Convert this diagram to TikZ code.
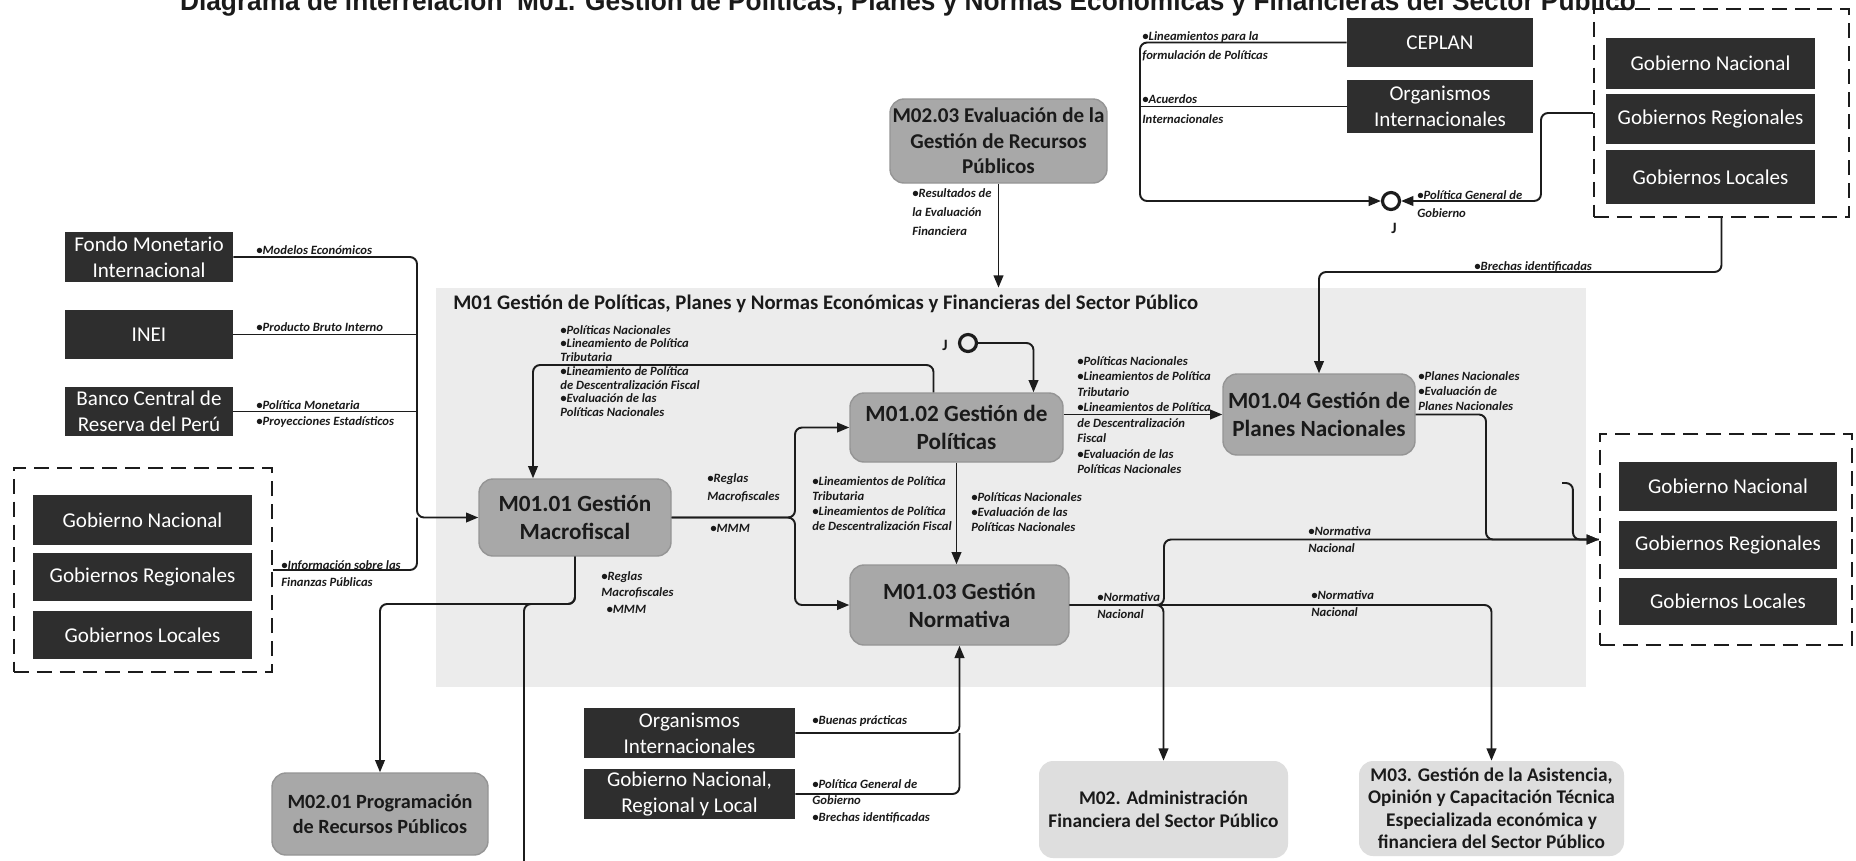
\documentclass[tikz,border=0pt]{standalone}
\usepackage{graphicx}
\usepackage{fontspec}
\setmainfont{Carlito}
\newfontfamily\titlefont{Liberation Sans}
\usetikzlibrary{arrows.meta,calc}
\definecolor{dk}{HTML}{2E2E2E}
\definecolor{mg}{HTML}{A8A8A8}
\definecolor{mge}{HTML}{959595}
\definecolor{lg}{HTML}{DEDEDE}
\definecolor{reg}{HTML}{ECECEC}
\definecolor{ln}{HTML}{1C1C1C}
\definecolor{tx}{HTML}{1A1A1A}
\begin{document}
\begin{tikzpicture}[x=0.02cm,y=-0.02cm,
  every node/.style={inner sep=0pt},
  wh/.style 2 args={minimum width=#1*0.02cm,minimum height=#2*0.02cm},
  darkbox/.style={fill=dk,text=white,align=center,font=\fontsize{12}{15}\selectfont},
  graybox/.style={fill=mg,draw=mge,line width=0.8pt,rounded corners=8pt,align=center,text=tx,font=\bfseries\fontsize{13.2}{16}\selectfont},
  lightbox/.style={fill=lg,rounded corners=8pt,align=center,text=tx,font=\bfseries\fontsize{11}{12.8}\selectfont},
  lbl/.style={anchor=north west,align=left,text=tx,font=\bfseries\itshape\fontsize{7.2}{#1}\selectfont},
  lbl/.default=8.5,
  conn/.style={draw=ln,line width=1.1pt,rounded corners=4pt},
  arr/.style={conn,-{Triangle[length=7pt,width=5.5pt]}},
  grp/.style={draw=ln,line width=1.2pt,dash pattern=on 8.5pt off 4.5pt},
  junc/.style={circle,draw=ln,line width=1.8pt,minimum size=0.34cm},
  jlab/.style={text=tx,font=\bfseries\fontsize{9}{10}\selectfont},
]
\useasboundingbox (0,0) rectangle (1856,860);
\clip (0,0) rectangle (1856,860);
\fill[white] (0,0) rectangle (1856,860);
% title
\node[anchor=base,text=tx] (title) at (908,10) {\resizebox{29.12cm}{\height}{\titlefont\bfseries\fontsize{15.5}{18}\selectfont Diagrama de interrelación \ M01. Gestión de Políticas, Planes y Normas Económicas y Financieras del Sector Público}};
% region
\node[fill=reg,wh={1150}{399}] (m01) at (1011,487.5) {};
\node[anchor=base west,text=tx,font=\bfseries\fontsize{11.8}{13}\selectfont] (m01t) at (453,309) {M01 Gestión de Políticas, Planes y Normas Económicas y Financieras del Sector Público};
% top right
\node[darkbox,wh={186}{49}] (ceplan) at (1440,42.5) {CEPLAN};
\node[darkbox,wh={186}{53}] (orga) at (1440,106.5) {Organismos\\Internacionales};
\node[grp,wh={255}{208}] (trg) at (1721.5,113) {};
\node[darkbox,wh={209}{51}] (trgn) at (1710.5,63.5) {Gobierno Nacional};
\node[darkbox,wh={209}{50}] (trgr) at (1710.5,119) {Gobiernos Regionales};
\node[darkbox,wh={209}{54}] (trgl) at (1710.5,177) {Gobiernos Locales};
\node[junc] (j1) at (1391,201) {};
\node[jlab] (j1l) at (1394,228) {J};
% M02.03
\node[graybox,font=\bfseries\fontsize{12}{14.5}\selectfont,wh={217}{84}] (m0203) at (998.5,141) {M02.03 Evaluación de la\\Gestión de Recursos\\Públicos};
% left
\node[darkbox,wh={168}{50}] (fmi) at (149,257) {Fondo Monetario\\Internacional};
\node[darkbox,wh={168}{49}] (inei) at (149,334.5) {INEI};
\node[darkbox,wh={168}{49}] (bcrp) at (149,411.5) {Banco Central de\\Reserva del Perú};
\node[grp,wh={258}{204}] (lgrp) at (143,570) {};
\node[darkbox,wh={219}{50}] (lgn) at (142.5,520) {Gobierno Nacional};
\node[darkbox,wh={219}{48}] (lgr) at (142.5,577) {Gobiernos Regionales};
\node[darkbox,wh={219}{48}] (lgl) at (142.5,635) {Gobiernos Locales};
% M01 subprocesses
\node[graybox,wh={192}{77}] (m011) at (575,517.5) {M01.01 Gestión\\Macrofiscal};
\node[graybox,wh={213}{69}] (m012) at (956.5,427.5) {M01.02 Gestión de\\Políticas};
\node[graybox,wh={219}{80}] (m013) at (959.5,605) {M01.03 Gestión\\Normativa};
\node[graybox,wh={192}{81}] (m014) at (1319,414.5) {M01.04 Gestión de\\Planes Nacionales};
\node[junc] (j2) at (968,343) {};
\node[jlab] (j2l) at (945,345) {J};
% right group
\node[grp,wh={252}{211}] (rgrp) at (1726,539.5) {};
\node[darkbox,wh={218}{49}] (rgn) at (1728,486.5) {Gobierno Nacional};
\node[darkbox,wh={218}{48}] (rgr) at (1728,545) {Gobiernos Regionales};
\node[darkbox,wh={218}{47}] (rgl) at (1728,601.5) {Gobiernos Locales};
% bottom
\node[graybox,font=\bfseries\fontsize{11.5}{14}\selectfont,wh={216}{82}] (m0201) at (380,814) {M02.01 Programación\\de Recursos Públicos};
\node[darkbox,wh={211}{50}] (orgb) at (689.5,733) {Organismos\\Internacionales};
\node[darkbox,wh={211}{50}] (gnrl) at (689.5,794) {Gobierno Nacional,\\Regional y Local};
\node[lightbox,wh={249}{97}] (m02) at (1163.5,809.5) {M02. Administración\\Financiera del Sector Público};
\node[lightbox,wh={265}{95}] (m03) at (1491.5,808.5) {M03. Gestión de la Asistencia,\\Opinión y Capacitación Técnica\\Especializada económica y\\financiera del Sector Público};

% ---- connectors ----
\coordinate (v1) at (1140,201);
\draw[arr] (ceplan.west) -| (v1) -- (j1.west);
\draw[conn] (orga.west) -- (orga.west -| v1);
\coordinate (v2) at (1541,201);
\draw[arr] (trg.west) -| (v2) -- (j1.east);
\coordinate (h3) at (0,272);
\draw[arr] (trg.south) |- (m014.north |- h3) -- (m014.north);
\draw[arr] (m0203.south) -- (m0203.south |- m01.north);

\coordinate (lv) at (417,0);
\draw[arr] (fmi.east) -| (lv |- m011.west) -- (m011.west);
\draw[conn] (inei.east) -- (inei.east -| lv);
\draw[conn] (bcrp.east) -- (bcrp.east -| lv);
\draw[conn] (lgrp.east) -| (lv |- m011.west);

\coordinate (h1) at (533,365);
\draw[arr] ($(m012.north)+(-23,0)$) |- (h1) -- (h1 |- m011.north);
\draw[arr] (j2.east) -| ($(m012.north)+(77,0)$);

\coordinate (v5) at (795,0);
\draw[arr] (m011.east) -| (v5 |- m012.west) -- (m012.west);
\draw[arr] (m011.east) -| (v5 |- m013.west) -- (m013.west);
\draw[arr] (m012.south) -- (m012.south |- m013.north);
\draw[arr] (m012.east |- m014.west) -- (m014.west);

\coordinate (v6) at (1486,0);
\draw[arr] (m014.east) -| (v6 |- rgrp.west) -- (rgrp.west);
\coordinate (hk) at (1562,483);
\draw[conn] (hk) -| ($(rgrp.west)+(-26,0)$) -- (rgrp.west);

\coordinate (v8) at (1164,0);
\draw[arr] (m013.east) -| (v8 |- rgrp.west) -- (rgrp.west);
\draw[arr] (m013.east) -| (m03.north);
\draw[arr] (m013.east) -| (m02.north);

\coordinate (h9) at (524,604);
\coordinate (h10) at (524,880);
\draw[arr] (m011.south) |- (m0201.north |- h9) -- (m0201.north);
\draw[conn] (m011.south) |- (h9) -- (h10);

\draw[arr] (orgb.east) -| (m013.south);
\draw[conn] (gnrl.east) -| (orgb.east -| m013.south);

% ---- labels ----
\node[lbl=10.8] (l1) at (1142,31) {•Lineamientos para la\\formulación de Políticas};
\node[lbl=11.4] (l2) at (1142,94) {•Acuerdos\\Internacionales};
\node[lbl=10.2] (l3) at (1417,190) {•Política General de\\Gobierno};
\node[lbl] (l4) at (1474,261) {•Brechas identificadas};
\node[lbl=10.8] (l5) at (912,188) {•Resultados de\\la Evaluación\\Financiera};
\node[lbl] (l6) at (256,245) {•Modelos Económicos};
\node[lbl] (l7) at (256,322) {•Producto Bruto Interno};
\node[lbl=9.1] (l8) at (256,400) {•Política Monetaria\\•Proyecciones Estadísticos};
\node[lbl=10] (l9) at (281,560) {•Información sobre las\\Finanzas Públicas};
\node[lbl=7.8] (l10) at (560,325) {•Políticas Nacionales\\•Lineamiento de Política\\Tributaria\\•Lineamiento de Política\\de Descentralización Fiscal\\•Evaluación de las\\Políticas Nacionales};
\node[lbl=10.5] (l11) at (707,473) {•Reglas\\Macrofiscales};
\node[lbl] (l12) at (710,524) {•MMM};
\node[lbl=8.5] (l13) at (812,476) {•Lineamientos de Política\\Tributaria\\•Lineamientos de Política\\de Descentralización Fiscal};
\node[lbl=8.5] (l14) at (971,492) {•Políticas Nacionales\\•Evaluación de las\\Políticas Nacionales};
\node[lbl=8.8] (l15) at (1077,356) {•Políticas Nacionales\\•Lineamientos de Política\\Tributario\\•Lineamientos de Política\\de Descentralización\\Fiscal\\•Evaluación de las\\Políticas Nacionales};
\node[lbl=8.5] (l16) at (1418,371) {•Planes Nacionales\\•Evaluación de\\Planes Nacionales};
\node[lbl=9.7] (l17) at (1097,592) {•Normativa\\Nacional};
\node[lbl=9.7] (l18) at (1308,526) {•Normativa\\Nacional};
\node[lbl=9.7] (l19) at (1311,590) {•Normativa\\Nacional};
\node[lbl=9.5] (l20) at (601,571) {•Reglas\\Macrofiscales\\\hspace*{3pt}•MMM};
\node[lbl] (l21) at (812,715) {•Buenas prácticas};
\node[lbl=9.4] (l22) at (812,779) {•Política General de\\Gobierno\\•Brechas identificadas};
\end{tikzpicture}
\end{document}
